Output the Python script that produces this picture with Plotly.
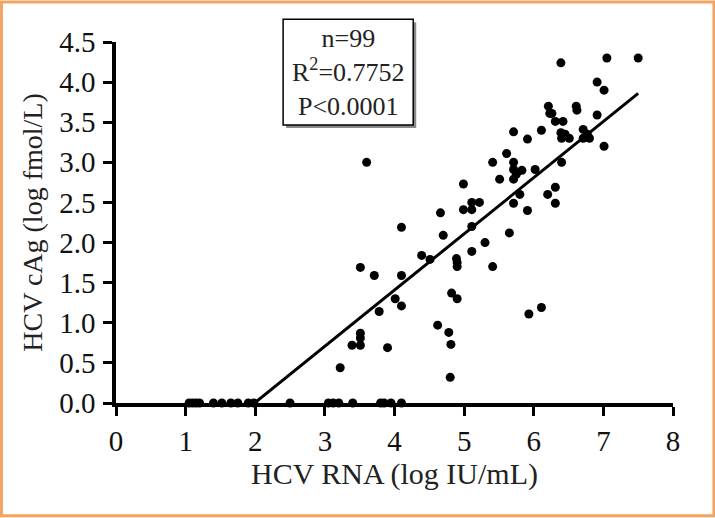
import plotly.graph_objects as go

# HCV RNA (log IU/mL) vs HCV cAg (log fmol/L)
rna_zero = [1.05, 1.10, 1.15, 1.20, 1.40, 1.52, 1.65, 1.75, 1.90, 1.98, 2.50,
            3.05, 3.12, 3.20, 3.40, 3.80, 3.85, 3.95, 4.10]
cag_zero = [0.0] * len(rna_zero)

rna_pos = [7.50, 7.05, 6.39, 6.91, 7.01, 6.21, 6.23, 6.26, 6.61, 6.62,
           6.91, 6.31, 6.42, 6.11, 6.39, 6.40, 6.51, 6.71, 6.71, 6.80,
           7.01, 6.40, 5.91, 5.71, 5.61, 5.41, 5.71, 5.71, 5.83, 6.02,
           5.51, 5.71, 4.99, 6.31, 6.20, 5.80, 6.31, 5.71, 5.11, 5.22,
           4.99, 5.11, 5.91, 4.66, 5.11, 4.10, 4.70, 5.65, 5.30, 5.11,
           4.39, 4.51, 4.89, 4.90, 5.41, 3.71, 4.10, 4.82, 4.90, 4.01,
           4.10, 3.78, 4.62, 3.51, 3.51, 3.39, 3.51, 3.90, 3.22, 5.93,
           6.11, 4.78, 4.81, 4.80, 3.51, 3.60, 6.45, 5.75, 4.90, 6.77]
cag_pos = [4.30, 4.30, 4.24, 4.00, 3.90, 3.70, 3.61, 3.61, 3.70, 3.65,
           3.59, 3.51, 3.51, 3.40, 3.37, 3.30, 3.30, 3.41, 3.30, 3.30,
           3.20, 3.00, 3.29, 3.38, 3.11, 3.00, 3.00, 2.91, 2.90, 2.91,
           2.79, 2.79, 2.73, 2.69, 2.60, 2.60, 2.49, 2.49, 2.50, 2.50,
           2.41, 2.41, 2.40, 2.37, 2.20, 2.19, 2.09, 2.12, 2.00, 1.89,
           1.84, 1.79, 1.80, 1.70, 1.70, 1.59, 1.59, 1.37, 1.30, 1.30,
           1.21, 1.14, 0.97, 0.87, 0.81, 0.72, 0.72, 0.69, 0.44, 1.11,
           1.19, 0.88, 0.73, 0.32, 1.69, 3.00, 3.35, 2.85, 1.75, 3.35]

x_all = rna_zero + rna_pos
y_all = cag_zero + cag_pos

fit_x = [1.99, 7.50]
fit_y = [0.0, 3.86]

x_ticks = [0, 1, 2, 3, 4, 5, 6, 7, 8]
y_ticks = [0.0, 0.5, 1.0, 1.5, 2.0, 2.5, 3.0, 3.5, 4.0, 4.5]
y_tick_text = ["0.0", "0.5", "1.0", "1.5", "2.0", "2.5", "3.0", "3.5", "4.0", "4.5"]

stats_text = "n=99<br>R<sup>2</sup>=0.7752<br>P<0.0001"

W, H = 715, 518
L, R_px, T, B_px = 116, 672.6, 41.7, 403.5
pw, ph = R_px - L, B_px - T


def px(xp):
    return (xp - L) / pw


def py(yp):
    return (B_px - yp) / ph


fig = go.Figure()
fig.add_trace(go.Scatter(x=fit_x, y=fit_y, mode="lines",
                         line=dict(color="black", width=3),
                         showlegend=False, hoverinfo="skip"))
fig.add_trace(go.Scatter(x=x_all, y=y_all, mode="markers",
                         marker=dict(color="black", size=9),
                         cliponaxis=False, showlegend=False))

tickfont = dict(family="Liberation Serif", size=29, color="#111")

fig.update_layout(
    width=W, height=H,
    margin=dict(l=L, r=W - R_px, t=T, b=H - B_px, pad=0),
    paper_bgcolor="white", plot_bgcolor="white",
    xaxis=dict(range=[0, 8], tickvals=x_ticks, showgrid=False, zeroline=False,
               showline=True, linecolor="black", linewidth=3.5,
               ticks="outside", ticklen=9, tickwidth=3, tickcolor="black",
               tickfont=tickfont, automargin=False,
               title=dict(text="HCV RNA (log IU/mL)",
                          font=dict(family="Liberation Serif", size=30, color="#222"),
                          standoff=8)),
    yaxis=dict(range=[0, 4.5], tickvals=y_ticks, ticktext=y_tick_text,
               showgrid=False, zeroline=False,
               showline=True, linecolor="black", linewidth=3.5,
               ticks="outside", ticklen=9, tickwidth=3, tickcolor="black",
               tickfont=tickfont, automargin=False, ticklabelstandoff=2,
               title=dict(text="HCV cAg (log fmol/L)",
                          font=dict(family="Liberation Serif", size=28, color="#222"),
                          standoff=9)),
    shapes=[
        dict(type="rect", xref="paper", yref="paper",
             x0=px(1.5), x1=px(W - 1.5), y0=py(H - 1.5), y1=py(1.5),
             line=dict(color="#F4A460", width=3), fillcolor="rgba(0,0,0,0)", layer="above"),
        dict(type="rect", xref="paper", yref="paper",
             x0=px(286), x1=px(416), y0=py(128), y1=py(22),
             line=dict(color="#888", width=0), fillcolor="#888", layer="above"),
        dict(type="rect", xref="paper", yref="paper",
             x0=px(283), x1=px(413), y0=py(125), y1=py(19),
             line=dict(color="black", width=1.5), fillcolor="white", layer="above"),
    ],
    annotations=[
        dict(xref="paper", yref="paper", x=px(348), y=py(72), text=stats_text,
             showarrow=False, align="center", xanchor="center", yanchor="middle",
             font=dict(family="Liberation Serif", size=26, color="#222")),
    ],
)

fig.write_html("out.html",
               config={"displayModeBar": False},
               post_script="document.body.style.margin='0';document.body.style.padding='0';")
